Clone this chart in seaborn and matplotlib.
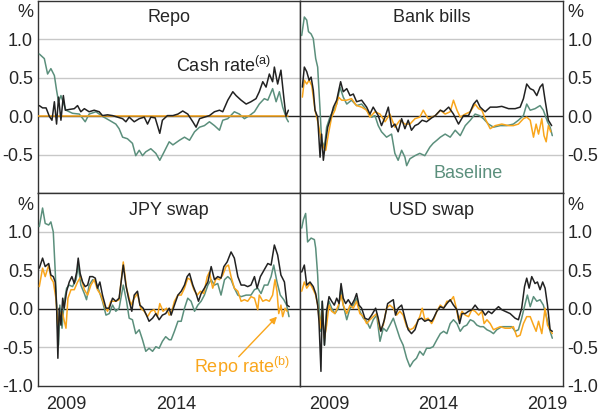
import matplotlib
matplotlib.use('Agg')
import pandas as pd
import seaborn as sns
import matplotlib.pyplot as plt

# spreads, percentage points; (decimal year, value)
repo_cash = [(2008.06, 0.14), (2008.21, 0.11), (2008.37, 0.11), (2008.52, 0.0), (2008.64, -0.05), (2008.75, 0.19),
             (2008.85, -0.10), (2008.94, 0.25), (2009.05, -0.05), (2009.16, 0.27), (2009.25, 0.08), (2009.43, 0.09),
             (2009.66, 0.10), (2009.81, 0.14), (2009.96, 0.06), (2010.12, 0.10), (2010.34, 0.06), (2010.57, 0.08),
             (2010.80, 0.06), (2010.95, 0.01), (2011.18, 0.02), (2011.41, 0.01), (2011.64, -0.01), (2011.87, -0.03),
             (2012.02, -0.07), (2012.17, -0.01), (2012.40, -0.07), (2012.63, -0.03), (2012.86, -0.01), (2013.01, -0.10),
             (2013.16, -0.01), (2013.36, -0.02), (2013.57, -0.22), (2013.69, -0.05), (2013.92, 0.01), (2014.17, 0.01),
             (2014.40, 0.03), (2014.62, 0.07), (2014.85, 0.03), (2015.08, -0.07), (2015.23, -0.14), (2015.39, -0.03),
             (2015.61, -0.01), (2015.84, 0.01), (2016.07, 0.06), (2016.30, 0.08), (2016.45, 0.06), (2016.68, 0.21),
             (2016.91, 0.32), (2017.06, 0.27), (2017.29, 0.21), (2017.52, 0.16), (2017.74, 0.19), (2017.97, 0.23),
             (2018.12, 0.32), (2018.28, 0.45), (2018.43, 0.38), (2018.58, 0.55), (2018.73, 0.45), (2018.81, 0.64),
             (2018.96, 0.42), (2019.11, 0.60), (2019.24, 0.25), (2019.34, 0.0), (2019.45, 0.08)]
repo_repo = [(2008.0, 0.0), (2019.45, 0.0)]
repo_base = [(2008.06, 0.81), (2008.29, 0.75), (2008.44, 0.55), (2008.59, 0.62), (2008.75, 0.53), (2008.85, 0.34),
             (2008.94, 0.19), (2009.05, 0.27), (2009.28, 0.08), (2009.58, 0.04), (2009.89, 0.03), (2010.16, -0.07),
             (2010.34, 0.03), (2010.65, 0.06), (2010.95, 0.0), (2011.26, -0.05), (2011.56, -0.10), (2011.71, -0.16),
             (2011.87, -0.27), (2012.09, -0.29), (2012.32, -0.35), (2012.47, -0.51), (2012.63, -0.44), (2012.78, -0.51),
             (2012.93, -0.46), (2013.16, -0.42), (2013.39, -0.48), (2013.57, -0.57), (2013.77, -0.46), (2014.00, -0.33),
             (2014.17, -0.37), (2014.47, -0.31), (2014.70, -0.27), (2014.93, -0.31), (2015.16, -0.20), (2015.39, -0.14),
             (2015.61, -0.12), (2015.84, -0.07), (2016.07, -0.12), (2016.30, -0.18), (2016.45, -0.05), (2016.68, -0.03),
             (2016.98, 0.06), (2017.21, 0.03), (2017.44, -0.03), (2017.67, 0.01), (2017.90, 0.06), (2018.12, 0.16),
             (2018.35, 0.23), (2018.51, 0.21), (2018.73, 0.36), (2018.89, 0.19), (2019.04, 0.32), (2019.19, 0.12),
             (2019.37, -0.03), (2019.45, -0.07)]

bb_cash = [(2008.09, 0.38), (2008.18, 0.64), (2008.29, 0.58), (2008.40, 0.47), (2008.49, 0.51), (2008.59, 0.34),
           (2008.67, 0.08), (2008.79, -0.01), (2008.90, -0.53), (2008.97, -0.23), (2009.05, -0.57), (2009.16, -0.31),
           (2009.25, -0.14), (2009.35, -0.05), (2009.51, 0.12), (2009.66, 0.21), (2009.84, 0.45), (2009.96, 0.32),
           (2010.12, 0.36), (2010.27, 0.27), (2010.42, 0.29), (2010.57, 0.19), (2010.80, 0.21), (2011.03, 0.12),
           (2011.18, 0.03), (2011.33, 0.12), (2011.56, 0.01), (2011.71, -0.12), (2011.87, -0.01), (2012.02, 0.12),
           (2012.17, -0.14), (2012.32, -0.10), (2012.47, -0.20), (2012.63, -0.03), (2012.78, -0.16), (2012.93, -0.05),
           (2013.08, -0.18), (2013.24, -0.12), (2013.39, -0.10), (2013.57, -0.05), (2013.77, -0.07), (2014.00, -0.02),
           (2014.17, 0.01), (2014.40, 0.08), (2014.55, 0.06), (2014.78, 0.12), (2015.00, 0.03), (2015.23, -0.10),
           (2015.46, 0.01), (2015.69, 0.01), (2015.92, 0.16), (2016.07, 0.21), (2016.22, 0.12), (2016.45, 0.06),
           (2016.68, 0.12), (2016.98, 0.12), (2017.21, 0.13), (2017.52, 0.10), (2017.82, 0.10), (2018.05, 0.12),
           (2018.20, 0.23), (2018.35, 0.42), (2018.51, 0.36), (2018.66, 0.34), (2018.81, 0.27), (2018.96, 0.38),
           (2019.08, 0.42), (2019.19, 0.21), (2019.34, -0.05), (2019.49, -0.12)]
bb_repo = [(2008.09, 0.25), (2008.18, 0.47), (2008.29, 0.42), (2008.40, 0.47), (2008.52, 0.40), (2008.67, 0.08),
           (2008.82, -0.10), (2008.93, -0.27), (2009.05, -0.40), (2009.16, -0.44), (2009.28, -0.23), (2009.43, -0.01),
           (2009.58, 0.08), (2009.74, 0.25), (2009.89, 0.21), (2010.12, 0.21), (2010.34, 0.23), (2010.57, 0.14),
           (2010.80, 0.12), (2011.03, 0.08), (2011.18, -0.01), (2011.41, 0.06), (2011.64, 0.03), (2011.87, -0.07),
           (2012.09, 0.03), (2012.32, -0.14), (2012.55, -0.05), (2012.78, -0.10), (2013.01, -0.10), (2013.24, -0.03),
           (2013.46, -0.01), (2013.62, 0.08), (2013.84, -0.03), (2014.00, -0.01), (2014.17, 0.01), (2014.40, 0.08),
           (2014.62, 0.03), (2014.85, 0.06), (2015.00, 0.21), (2015.16, 0.08), (2015.31, -0.01), (2015.54, 0.03),
           (2015.77, 0.06), (2015.99, 0.16), (2016.15, 0.10), (2016.30, 0.08), (2016.45, -0.03), (2016.68, -0.16),
           (2016.91, -0.12), (2017.21, -0.10), (2017.52, -0.12), (2017.74, -0.12), (2017.97, -0.10), (2018.20, -0.03),
           (2018.35, -0.01), (2018.51, -0.05), (2018.66, -0.27), (2018.78, -0.10), (2018.89, -0.23), (2019.04, -0.03),
           (2019.14, -0.25), (2019.24, -0.33), (2019.34, -0.12), (2019.45, -0.20)]
bb_base = [(2008.06, 1.05), (2008.18, 1.29), (2008.29, 1.25), (2008.37, 1.10), (2008.49, 1.07), (2008.59, 1.01),
           (2008.70, 0.75), (2008.79, 0.64), (2008.90, 0.08), (2008.97, -0.31), (2009.10, -0.40), (2009.20, -0.14),
           (2009.35, -0.01), (2009.51, 0.08), (2009.66, 0.16), (2009.81, 0.38), (2009.96, 0.25), (2010.12, 0.16),
           (2010.34, 0.21), (2010.57, 0.14), (2010.80, 0.16), (2011.03, 0.08), (2011.26, -0.01), (2011.41, 0.01),
           (2011.56, -0.12), (2011.71, -0.20), (2011.94, -0.27), (2012.17, -0.23), (2012.32, -0.48), (2012.47, -0.57),
           (2012.63, -0.44), (2012.78, -0.53), (2012.86, -0.64), (2013.01, -0.55), (2013.24, -0.51), (2013.46, -0.48),
           (2013.69, -0.51), (2013.92, -0.40), (2014.07, -0.35), (2014.24, -0.31), (2014.40, -0.27), (2014.62, -0.23),
           (2014.85, -0.27), (2015.08, -0.18), (2015.31, -0.25), (2015.54, -0.12), (2015.77, -0.05), (2015.99, 0.03),
           (2016.19, 0.01), (2016.37, -0.03), (2016.60, -0.10), (2016.83, -0.14), (2017.14, -0.12), (2017.44, -0.12),
           (2017.74, -0.10), (2017.97, -0.05), (2018.20, 0.01), (2018.35, 0.16), (2018.51, 0.08), (2018.73, 0.10),
           (2018.96, 0.14), (2019.11, 0.08), (2019.30, -0.07), (2019.42, -0.14), (2019.52, -0.25)]

jpy_cash = [(2008.06, 0.53), (2008.21, 0.66), (2008.33, 0.55), (2008.49, 0.59), (2008.59, 0.44), (2008.70, 0.42),
            (2008.79, 0.35), (2008.85, 0.05), (2008.91, -0.64), (2008.97, 0.01), (2009.05, -0.21), (2009.13, 0.14),
            (2009.20, 0.01), (2009.31, 0.23), (2009.43, 0.35), (2009.55, 0.42), (2009.66, 0.33), (2009.77, 0.48),
            (2009.84, 0.66), (2009.93, 0.46), (2010.04, 0.35), (2010.16, 0.29), (2010.27, 0.31), (2010.37, 0.42),
            (2010.50, 0.42), (2010.62, 0.40), (2010.72, 0.27), (2010.83, 0.35), (2010.95, 0.18), (2011.11, 0.01),
            (2011.26, 0.01), (2011.41, 0.14), (2011.56, 0.10), (2011.71, 0.14), (2011.90, 0.57), (2012.02, 0.31),
            (2012.14, 0.14), (2012.29, -0.03), (2012.40, 0.18), (2012.55, 0.23), (2012.66, 0.05), (2012.81, 0.01),
            (2012.96, -0.08), (2013.08, -0.16), (2013.24, -0.12), (2013.39, -0.06), (2013.54, -0.14), (2013.69, -0.08),
            (2013.84, -0.06), (2014.00, 0.01), (2014.09, -0.08), (2014.24, 0.05), (2014.40, 0.18), (2014.55, 0.23),
            (2014.70, 0.31), (2014.82, 0.42), (2014.93, 0.46), (2015.08, 0.31), (2015.23, 0.20), (2015.34, 0.10),
            (2015.46, 0.20), (2015.61, 0.27), (2015.77, 0.35), (2015.92, 0.55), (2016.07, 0.38), (2016.22, 0.42),
            (2016.37, 0.40), (2016.50, 0.55), (2016.65, 0.61), (2016.83, 0.74), (2016.98, 0.66), (2017.14, 0.42),
            (2017.29, 0.31), (2017.44, 0.31), (2017.59, 0.29), (2017.74, 0.31), (2017.90, 0.42), (2018.02, 0.27),
            (2018.17, 0.42), (2018.35, 0.51), (2018.51, 0.59), (2018.66, 0.57), (2018.81, 0.83), (2018.96, 0.70),
            (2019.11, 0.44), (2019.27, 0.35), (2019.39, 0.05), (2019.49, 0.03)]
jpy_repo = [(2008.06, 0.29), (2008.21, 0.53), (2008.33, 0.42), (2008.49, 0.57), (2008.59, 0.40), (2008.70, 0.35),
            (2008.82, 0.14), (2008.91, -0.21), (2009.00, -0.08), (2009.10, -0.03), (2009.19, -0.14), (2009.28, -0.25),
            (2009.37, 0.14), (2009.51, 0.25), (2009.66, 0.25), (2009.81, 0.35), (2009.96, 0.42), (2010.12, 0.25),
            (2010.27, 0.18), (2010.42, 0.31), (2010.57, 0.38), (2010.72, 0.25), (2010.88, 0.18), (2011.03, 0.05),
            (2011.18, -0.03), (2011.33, 0.10), (2011.56, 0.10), (2011.71, 0.12), (2011.90, 0.61), (2012.05, 0.27),
            (2012.25, 0.05), (2012.40, 0.14), (2012.55, 0.20), (2012.70, 0.01), (2012.86, -0.03), (2013.01, -0.10),
            (2013.16, -0.03), (2013.31, -0.01), (2013.46, -0.10), (2013.57, 0.07), (2013.72, -0.03), (2013.88, 0.01),
            (2014.00, -0.08), (2014.09, -0.06), (2014.24, 0.10), (2014.40, 0.18), (2014.55, 0.18), (2014.70, 0.27),
            (2014.85, 0.40), (2014.97, 0.38), (2015.13, 0.25), (2015.28, 0.18), (2015.43, 0.23), (2015.58, 0.20),
            (2015.74, 0.42), (2015.84, 0.48), (2015.99, 0.27), (2016.15, 0.40), (2016.30, 0.38), (2016.45, 0.44),
            (2016.60, 0.55), (2016.71, 0.57), (2016.83, 0.42), (2016.98, 0.27), (2017.14, 0.23), (2017.29, 0.10),
            (2017.44, 0.12), (2017.59, 0.10), (2017.74, 0.16), (2017.90, 0.14), (2018.05, -0.01), (2018.12, 0.18),
            (2018.28, 0.10), (2018.43, 0.12), (2018.58, 0.10), (2018.73, 0.18), (2018.84, 0.38), (2018.93, 0.23),
            (2019.01, -0.06), (2019.11, 0.05), (2019.19, -0.10), (2019.30, 0.01), (2019.39, -0.03)]
jpy_base = [(2008.06, 1.07), (2008.21, 1.31), (2008.33, 1.11), (2008.49, 1.09), (2008.59, 1.13), (2008.70, 1.00),
            (2008.79, 0.48), (2008.87, -0.08), (2008.94, -0.47), (2009.00, 0.05), (2009.10, -0.25), (2009.20, 0.10),
            (2009.31, 0.27), (2009.43, 0.31), (2009.58, 0.29), (2009.74, 0.38), (2009.84, 0.57), (2009.96, 0.31),
            (2010.12, 0.20), (2010.22, 0.12), (2010.34, 0.31), (2010.50, 0.38), (2010.65, 0.35), (2010.80, 0.23),
            (2010.95, 0.10), (2011.11, -0.08), (2011.26, -0.06), (2011.41, 0.05), (2011.56, -0.03), (2011.71, 0.01),
            (2011.90, 0.31), (2012.05, 0.10), (2012.17, -0.12), (2012.32, -0.14), (2012.47, -0.32), (2012.63, -0.27),
            (2012.78, -0.40), (2012.93, -0.55), (2013.08, -0.51), (2013.24, -0.55), (2013.39, -0.49), (2013.54, -0.51),
            (2013.69, -0.42), (2013.84, -0.36), (2014.00, -0.40), (2014.09, -0.40), (2014.24, -0.29), (2014.40, -0.16),
            (2014.55, -0.16), (2014.70, 0.01), (2014.85, 0.14), (2015.00, 0.10), (2015.16, -0.03), (2015.31, 0.05),
            (2015.46, 0.10), (2015.61, 0.18), (2015.77, 0.31), (2015.92, 0.38), (2016.07, 0.31), (2016.22, 0.33),
            (2016.37, 0.18), (2016.53, 0.38), (2016.68, 0.42), (2016.83, 0.38), (2016.98, 0.27), (2017.14, 0.18),
            (2017.29, 0.16), (2017.52, 0.18), (2017.74, 0.18), (2017.90, 0.25), (2018.05, 0.27), (2018.20, 0.20),
            (2018.35, 0.31), (2018.51, 0.31), (2018.66, 0.42), (2018.78, 0.57), (2018.93, 0.35), (2019.08, 0.18),
            (2019.24, 0.12), (2019.37, 0.05), (2019.48, -0.10)]

usd_cash = [(2008.06, 0.48), (2008.18, 0.57), (2008.29, 0.31), (2008.44, 0.35), (2008.59, 0.29), (2008.70, 0.20),
            (2008.79, 0.05), (2008.85, -0.16), (2008.94, -0.81), (2009.00, 0.10), (2009.10, -0.47), (2009.20, -0.03),
            (2009.31, 0.16), (2009.43, 0.10), (2009.55, 0.05), (2009.66, 0.14), (2009.77, 0.07), (2009.86, 0.33),
            (2009.96, 0.14), (2010.07, 0.07), (2010.19, 0.12), (2010.34, 0.05), (2010.47, 0.12), (2010.57, 0.20),
            (2010.68, 0.05), (2010.80, 0.01), (2010.95, -0.12), (2011.11, -0.14), (2011.26, -0.08), (2011.44, 0.01),
            (2011.56, -0.12), (2011.68, -0.29), (2011.84, -0.14), (2011.99, 0.07), (2012.14, 0.10), (2012.25, 0.12),
            (2012.35, -0.08), (2012.47, 0.01), (2012.63, 0.05), (2012.78, -0.12), (2012.93, -0.27), (2013.08, -0.32),
            (2013.24, -0.27), (2013.39, -0.14), (2013.54, -0.12), (2013.69, -0.16), (2013.84, -0.14), (2014.00, -0.16),
            (2014.09, -0.12), (2014.24, -0.03), (2014.40, 0.03), (2014.55, 0.01), (2014.70, 0.07), (2014.85, 0.12),
            (2015.00, 0.05), (2015.16, -0.01), (2015.28, -0.19), (2015.39, -0.06), (2015.54, -0.06), (2015.69, -0.03),
            (2015.84, -0.01), (2015.99, 0.05), (2016.15, -0.01), (2016.30, -0.01), (2016.45, -0.08), (2016.60, -0.03),
            (2016.75, -0.06), (2016.91, -0.01), (2017.06, 0.03), (2017.21, -0.01), (2017.36, -0.03), (2017.59, -0.06),
            (2017.82, -0.12), (2017.97, -0.14), (2018.12, 0.01), (2018.25, 0.29), (2018.35, 0.40), (2018.46, 0.27),
            (2018.58, 0.42), (2018.73, 0.33), (2018.84, 0.35), (2018.96, 0.25), (2019.08, 0.35), (2019.19, 0.27),
            (2019.30, 0.05), (2019.42, -0.27), (2019.52, -0.29)]
usd_repo = [(2008.06, 0.23), (2008.18, 0.35), (2008.29, 0.27), (2008.44, 0.33), (2008.59, 0.25), (2008.70, 0.18),
            (2008.79, 0.05), (2008.90, -0.25), (2009.00, -0.03), (2009.10, -0.38), (2009.20, -0.21), (2009.31, 0.05),
            (2009.43, -0.03), (2009.58, -0.06), (2009.74, 0.05), (2009.86, 0.18), (2009.96, 0.05), (2010.12, -0.06),
            (2010.27, 0.05), (2010.42, 0.01), (2010.57, 0.10), (2010.72, -0.06), (2010.88, -0.10), (2011.03, -0.19),
            (2011.18, -0.14), (2011.33, -0.10), (2011.49, -0.06), (2011.64, -0.27), (2011.79, -0.21), (2011.94, 0.01),
            (2012.09, 0.05), (2012.25, 0.01), (2012.40, -0.08), (2012.55, -0.03), (2012.70, -0.08), (2012.86, -0.23),
            (2013.01, -0.27), (2013.16, -0.25), (2013.31, -0.19), (2013.46, -0.10), (2013.57, 0.01), (2013.69, -0.14),
            (2013.84, -0.12), (2014.00, -0.19), (2014.09, -0.14), (2014.24, -0.03), (2014.40, 0.05), (2014.55, 0.01),
            (2014.70, 0.10), (2014.85, 0.10), (2015.00, 0.16), (2015.13, 0.01), (2015.23, -0.14), (2015.39, -0.03),
            (2015.54, -0.08), (2015.69, -0.10), (2015.84, -0.01), (2015.99, -0.03), (2016.15, -0.08), (2016.30, -0.03),
            (2016.40, -0.19), (2016.53, -0.14), (2016.68, -0.19), (2016.83, -0.27), (2016.98, -0.25), (2017.14, -0.23),
            (2017.36, -0.25), (2017.59, -0.25), (2017.74, -0.23), (2017.90, -0.36), (2018.05, -0.34), (2018.20, -0.19),
            (2018.35, -0.10), (2018.51, -0.10), (2018.66, -0.21), (2018.78, -0.29), (2018.89, -0.16), (2019.04, -0.32),
            (2019.19, 0.01), (2019.30, -0.21), (2019.42, -0.27), (2019.52, -0.32)]
usd_base = [(2008.06, 1.05), (2008.14, 1.16), (2008.24, 1.24), (2008.33, 0.87), (2008.49, 0.92), (2008.64, 0.90),
            (2008.70, 0.79), (2008.79, 0.44), (2008.85, 0.05), (2008.91, -0.29), (2009.00, 0.10), (2009.10, -0.47),
            (2009.20, -0.03), (2009.31, 0.10), (2009.43, 0.01), (2009.58, -0.06), (2009.74, 0.01), (2009.86, 0.27),
            (2009.96, 0.05), (2010.12, -0.14), (2010.27, 0.01), (2010.42, 0.05), (2010.57, 0.14), (2010.72, -0.03),
            (2010.88, -0.12), (2011.03, -0.16), (2011.18, -0.25), (2011.33, -0.14), (2011.49, -0.08), (2011.64, -0.42),
            (2011.79, -0.25), (2011.94, -0.29), (2012.09, -0.21), (2012.25, -0.12), (2012.40, -0.25), (2012.55, -0.38),
            (2012.70, -0.47), (2012.86, -0.64), (2013.01, -0.75), (2013.16, -0.68), (2013.31, -0.64), (2013.46, -0.55),
            (2013.62, -0.60), (2013.77, -0.51), (2013.92, -0.51), (2014.07, -0.49), (2014.24, -0.40), (2014.40, -0.32),
            (2014.55, -0.29), (2014.70, -0.32), (2014.85, -0.19), (2015.00, -0.14), (2015.16, -0.19), (2015.31, -0.29),
            (2015.46, -0.23), (2015.61, -0.21), (2015.77, -0.14), (2015.92, -0.16), (2016.07, -0.21), (2016.22, -0.23),
            (2016.37, -0.23), (2016.53, -0.27), (2016.68, -0.29), (2016.83, -0.32), (2016.98, -0.27), (2017.21, -0.23),
            (2017.44, -0.23), (2017.67, -0.23), (2017.82, -0.29), (2017.97, -0.27), (2018.12, -0.12), (2018.28, 0.07),
            (2018.38, 0.18), (2018.51, 0.03), (2018.66, 0.16), (2018.81, 0.10), (2018.96, 0.12), (2019.11, 0.05),
            (2019.27, -0.12), (2019.42, -0.29), (2019.52, -0.38)]

titles = ['Repo', 'Bank bills', 'JPY swap', 'USD swap']
year_labels = [[], [], [2009, 2014], [2009, 2014, 2019]]

sns.set_style('white')
plt.rcParams['font.family'] = ['Liberation Sans', 'DejaVu Sans']
plt.rcParams['axes.unicode_minus'] = False
plt.rcParams['mathtext.fontset'] = 'custom'
plt.rcParams['mathtext.rm'] = 'Liberation Sans'

green = '#5b8f7c'
orange = '#f9a61c'
black = '#222222'
fs = 13

panels = [(repo_base, repo_repo, repo_cash), (bb_base, bb_repo, bb_cash),
          (jpy_base, jpy_repo, jpy_cash), (usd_base, usd_repo, usd_cash)]

fig, axes = plt.subplots(2, 2, figsize=(6, 4.13), dpi=100)
fig.subplots_adjust(left=0.0633, right=0.938, top=0.998, bottom=0.0654, wspace=0, hspace=0)

for ii, (ax, series) in enumerate(zip(axes.flat, panels)):
    for dat, col in zip(series, (green, orange, black)):
        df = pd.DataFrame(dat, columns=['year', 'spread'])
        sns.lineplot(data=df, x='year', y='spread', color=col, lw=1.1, ax=ax,
                     estimator=None, sort=False, zorder=3)
    for g in (1.0, 0.5, -0.5):
        ax.axhline(g, color='#c8c8c8', lw=1, zorder=1)
    ax.axhline(0, color=black, lw=1, zorder=2)
    ax.set_xlim(2008, 2020)
    ax.set_ylim(-1, 1.5)
    ax.set_xlabel('')
    ax.set_ylabel('')
    for sp in ax.spines.values():
        sp.set_color('#333333')
        sp.set_linewidth(1)
    ax.text(0.5, 0.912, titles[ii], transform=ax.transAxes, ha='center', va='center', fontsize=fs)

    top = ii < 2
    yt = [-0.5, 0, 0.5, 1.0] if top else [-1.0, -0.5, 0, 0.5, 1.0]
    ax.set_yticks(yt)
    ax.set_yticklabels(['%.1f' % v for v in yt])
    right = ii % 2 == 1
    if right:
        ax.yaxis.tick_right()
        ax.tick_params(axis='y', length=0, labelsize=fs, pad=3.5, labelleft=False, labelright=True)
        ax.text(1.019, 0.938, '%', transform=ax.transAxes, ha='left', va='center', fontsize=fs)
    else:
        ax.tick_params(axis='y', length=0, labelsize=fs, pad=3.5, labelleft=True, labelright=False)
        ax.text(-0.019, 0.938, '%', transform=ax.transAxes, ha='right', va='center', fontsize=fs)

    if top:
        ax.set_xticks([])
    else:
        ax.set_xticks(range(2009, 2020))
        ax.set_xticklabels([])
        ax.tick_params(axis='x', which='major', direction='in', length=6, width=1, color='#333333')
        ax.set_xticks([y + 0.3 for y in year_labels[ii]], minor=True)
        ax.set_xticklabels([str(y) for y in year_labels[ii]], minor=True)
        ax.tick_params(axis='x', which='minor', length=0, labelsize=fs, pad=7)

ax_repo, ax_bb, ax_jpy, ax_usd = axes.flat
ax_repo.text(2014.3, 0.66, 'Cash rate$^{\\mathrm{(a)}}$', color=black, fontsize=fs, ha='left', va='center')
ax_bb.text(2014.1, -0.74, 'Baseline', color=green, fontsize=fs, ha='left', va='center')
ax_jpy.text(2015.15, -0.75, 'Repo rate$^{\\mathrm{(b)}}$', color=orange, fontsize=fs, ha='left', va='center')
ax_jpy.annotate('', xy=(2018.93, -0.10), xytext=(2017.18, -0.62),
                arrowprops=dict(arrowstyle='-|>', color=orange, lw=1, mutation_scale=10,
                                shrinkA=0, shrinkB=0))

fig.savefig('out.png', dpi=100)
